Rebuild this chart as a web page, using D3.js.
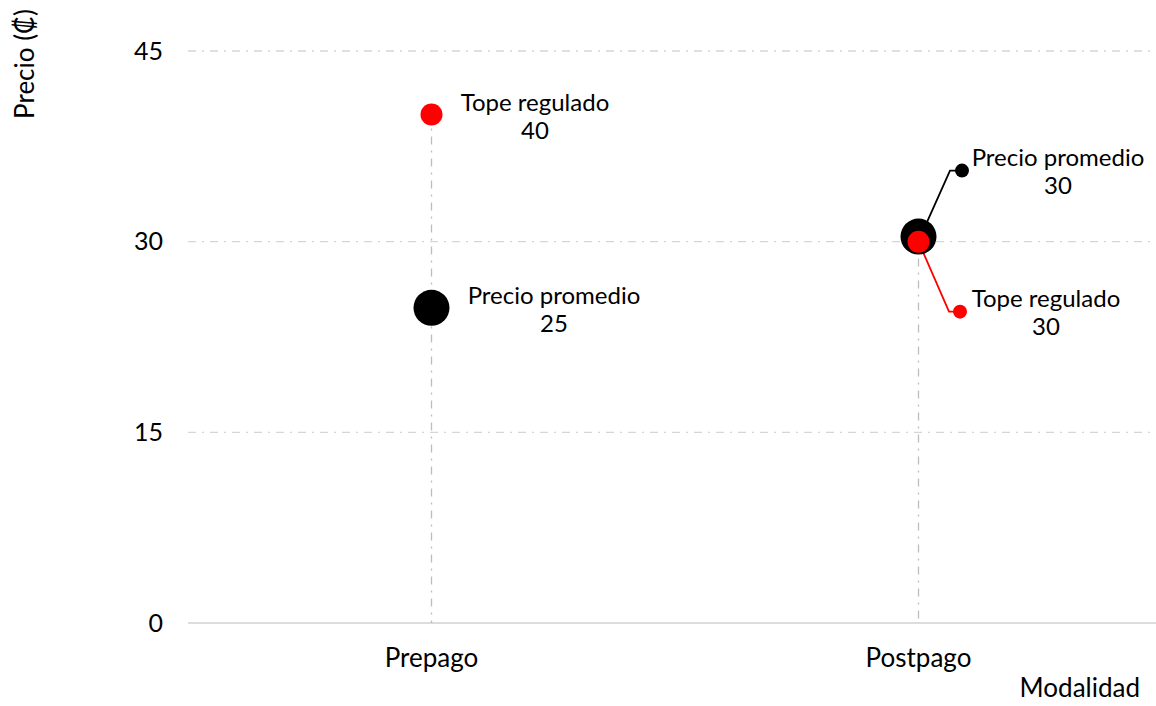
<!DOCTYPE html>
<html>
<head>
<meta charset="utf-8">
<script src="https://cdn.jsdelivr.net/npm/d3@7"></script>
<style>
  body { margin: 0; background: #fff; }
  text { font-family: "Lato", "Open Sans", sans-serif; fill: #000; }
</style>
</head>
<body>
<script>
// chart data
const categories = ['Prepago', 'Postpago'];
const precioPromedio = [24.8, 30.4];
const topeRegulado = [40, 30];
const precioLabels = ['25', '30'];
const topeLabels = ['40', '30'];
const yTicks = [0, 15, 30, 45];

const width = 1156;
const height = 706;
const margin = { top: 51, right: 0, bottom: 83, left: 188 };

const svg = d3.select('body').append('svg')
    .attr('width', width)
    .attr('height', height);

const x = d3.scalePoint()
    .domain(categories)
    .range([margin.left, 1162])
    .padding(0.5);

const y = d3.scaleLinear()
    .domain([0, 45])
    .range([height - margin.bottom, margin.top]);

// gridlines
svg.append('g')
    .selectAll('line')
    .data(yTicks.filter(d => d > 0))
    .join('line')
    .attr('x1', margin.left)
    .attr('x2', 1152)
    .attr('y1', d => y(d))
    .attr('y2', d => y(d))
    .attr('stroke', '#d6d6d6')
    .attr('stroke-width', 1.3)
    .attr('stroke-dasharray', '8,6,2,6');

// baseline
svg.append('line')
    .attr('x1', margin.left)
    .attr('x2', 1156)
    .attr('y1', y(0))
    .attr('y2', y(0))
    .attr('stroke', '#d0d0d0')
    .attr('stroke-width', 1.5);

// y tick labels
svg.append('g')
    .selectAll('text')
    .data(yTicks)
    .join('text')
    .attr('x', 163)
    .attr('y', d => y(d))
    .attr('dy', '0.35em')
    .attr('text-anchor', 'end')
    .style('font-size', '25px')
    .text(d => d);

// drop lines
svg.append('g')
    .selectAll('line')
    .data(categories)
    .join('line')
    .attr('x1', d => x(d))
    .attr('x2', d => x(d))
    .attr('y1', (d, i) => y(Math.max(precioPromedio[i], topeRegulado[i])))
    .attr('y2', y(0))
    .attr('stroke', '#bdbdbd')
    .attr('stroke-width', 1.3)
    .attr('stroke-dasharray', '8,6,2,6');

// x labels
svg.append('g')
    .selectAll('text')
    .data(categories)
    .join('text')
    .attr('x', d => x(d))
    .attr('y', 667)
    .attr('text-anchor', 'middle')
    .style('font-size', '26px')
    .text(d => d);

svg.append('text')
    .attr('x', 1140)
    .attr('y', 697)
    .attr('text-anchor', 'end')
    .style('font-size', '26px')
    .text('Modalidad');

svg.append('text')
    .attr('transform', 'translate(34, 64) rotate(-90)')
    .attr('text-anchor', 'middle')
    .style('font-size', '26px')
    .text('Precio (₡)');

// leader lines for Postpago (overlapping points)
const pX = x('Postpago');
svg.append('polyline')
    .attr('points', [[pX + 2, y(precioPromedio[1])], [950, y(precioPromedio[1]) - 66], [962, y(precioPromedio[1]) - 66]].join(' '))
    .attr('fill', 'none')
    .attr('stroke', '#000')
    .attr('stroke-width', 1.8);
svg.append('polyline')
    .attr('points', [[pX, y(topeRegulado[1])], [949, y(topeRegulado[1]) + 70], [960, y(topeRegulado[1]) + 70]].join(' '))
    .attr('fill', 'none')
    .attr('stroke', '#ff0000')
    .attr('stroke-width', 1.8);

// precio promedio (big black)
svg.append('g')
    .selectAll('circle')
    .data(categories)
    .join('circle')
    .attr('cx', d => x(d))
    .attr('cy', (d, i) => y(precioPromedio[i]))
    .attr('r', 18)
    .attr('fill', '#000');

// tope regulado (red)
svg.append('g')
    .selectAll('circle')
    .data(categories)
    .join('circle')
    .attr('cx', d => x(d))
    .attr('cy', (d, i) => y(topeRegulado[i]))
    .attr('r', 11)
    .attr('fill', '#ff0000');

// leader end dots
svg.append('circle')
    .attr('cx', 962).attr('cy', y(precioPromedio[1]) - 66)
    .attr('r', 7).attr('fill', '#000');
svg.append('circle')
    .attr('cx', 960).attr('cy', y(topeRegulado[1]) + 70)
    .attr('r', 7).attr('fill', '#ff0000');

// data labels
function label(cx, top, name, val) {
    const t = svg.append('text')
        .attr('x', cx)
        .attr('y', top)
        .attr('text-anchor', 'middle')
        .style('font-size', '24px');
    t.append('tspan').attr('x', cx).text(name);
    t.append('tspan').attr('x', cx).attr('dy', 28).text(val);
}
label(535, 111, 'Tope regulado', topeLabels[0]);
label(554, 304, 'Precio promedio', precioLabels[0]);
label(1058, 166, 'Precio promedio', precioLabels[1]);
label(1046, 307, 'Tope regulado', topeLabels[1]);
</script>
</body>
</html>
